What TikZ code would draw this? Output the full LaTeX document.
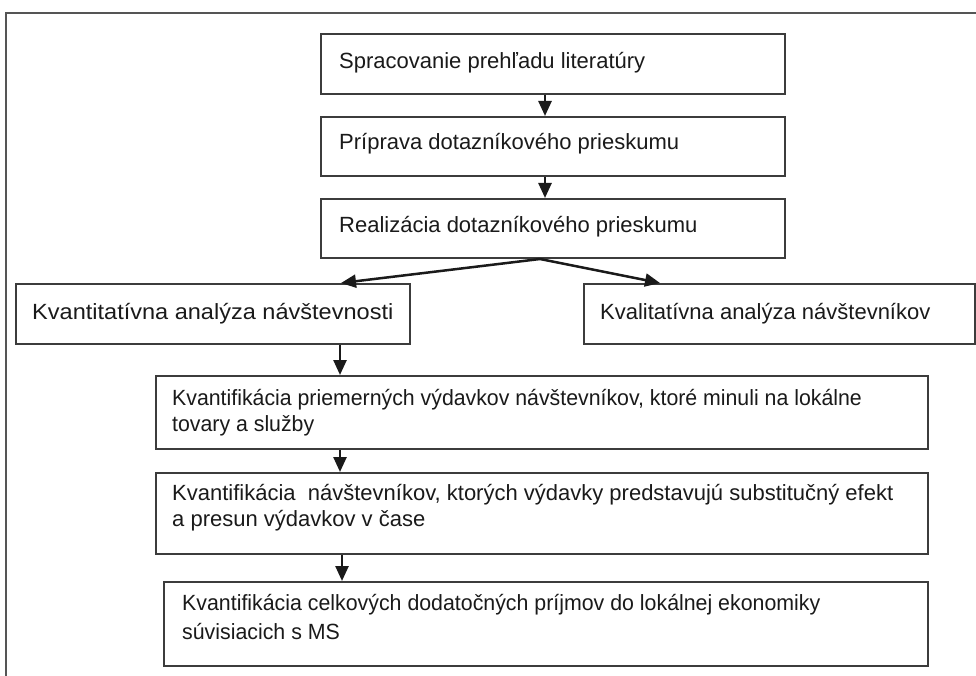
\documentclass[tikz,border=0pt]{standalone}
\usepackage{fontspec}
\setmainfont{Liberation Sans}
\usetikzlibrary{arrows.meta,calc}
\definecolor{boxline}{HTML}{3C3C3C}
\definecolor{frameline}{HTML}{555555}
\definecolor{ink}{HTML}{1A1A1A}
\begin{document}
\begin{tikzpicture}[x=1pt,y=-1pt,
  stepbox/.style={draw=boxline,line width=2pt,rectangle,inner sep=0pt,anchor=north west},
  txt/.style={anchor=base west,inner sep=0pt,text=ink,font=\fontsize{22}{26}\selectfont},
  flow/.style={draw=ink,line width=2.5pt,-{Triangle[length=15pt,width=13pt]}}]
\useasboundingbox (0,0) rectangle (976,676);
\fill[white] (0,0) rectangle (976,676);
% outer frame (open at right and bottom)
\draw[frameline,line width=2pt] (6,676) -- (6,13) -- (976,13);
% boxes
\node[stepbox,minimum width=464pt,minimum height=60pt] (b1) at (320,33) {};
\node[stepbox,minimum width=464pt,minimum height=59pt] (b2) at (320,116) {};
\node[stepbox,minimum width=464pt,minimum height=59pt] (b3) at (320,198) {};
\node[stepbox,minimum width=394pt,minimum height=60pt] (bl) at (15,283) {};
\node[stepbox,minimum width=391pt,minimum height=60pt] (br) at (583,283) {};
\node[stepbox,minimum width=772pt,minimum height=73pt] (b4) at (155,375) {};
\node[stepbox,minimum width=772pt,minimum height=81pt] (b5) at (155,472) {};
\node[stepbox,minimum width=764pt,minimum height=84pt] (b6) at (163,581) {};
% texts
\node[txt] (t1) at ($(b1.north west)+(19,36)$) {Spracovanie prehľadu literatúry};
\node[txt] (t2) at ($(b2.north west)+(19,34)$) {Príprava dotazníkového prieskumu};
\node[txt] (t3) at ($(b3.north west)+(19,35)$) {Realizácia dotazníkového prieskumu};
\node[txt] (tl) at ($(bl.north west)+(17,36)$) {\scalebox{1.07}[1]{Kvantitatívna analýza návštevnosti}};
\node[txt] (tr) at ($(br.north west)+(17,36)$) {Kvalitatívna analýza návštevníkov};
\node[txt] (t4a) at ($(b4.north west)+(17,30)$) {\scalebox{0.968}[1]{Kvantifikácia priemerných výdavkov návštevníkov, ktoré minuli na lokálne}};
\node[txt] (t4b) at ($(b4.north west)+(17,56)$) {\scalebox{0.968}[1]{tovary a služby}};
\node[txt] (t5a) at ($(b5.north west)+(17,28)$) {Kvantifikácia\ \ návštevníkov, ktorých výdavky predstavujú substitučný efekt};
\node[txt] (t5b) at ($(b5.north west)+(17,54)$) {a presun výdavkov v čase};
\node[txt] (t6a) at ($(b6.north west)+(19,29)$) {\scalebox{0.97}[1]{Kvantifikácia celkových dodatočných príjmov do lokálnej ekonomiky}};
\node[txt] (t6b) at ($(b6.north west)+(19,58)$) {\scalebox{0.97}[1]{súvisiacich s MS}};
% connector points
\coordinate (s1) at ($(b1.south west)+(225,0)$);
\coordinate (e1) at ($(b2.north west)+(225,0)$);
\coordinate (s2) at ($(b2.south west)+(225,0)$);
\coordinate (e2) at ($(b3.north west)+(225,0)$);
\coordinate (s3) at ($(b3.south west)+(220,0)$);
\coordinate (el) at ($(bl.north west)+(326,0)$);
\coordinate (er) at ($(br.north west)+(77,0)$);
\coordinate (s4) at ($(bl.south west)+(325,0)$);
\coordinate (e4) at ($(b4.north west)+(185,0)$);
\coordinate (s5) at ($(b4.south west)+(185,0)$);
\coordinate (e5) at ($(b5.north west)+(185,0)$);
\coordinate (s6) at ($(b5.south west)+(187,0)$);
\coordinate (e6) at ($(b6.north west)+(179,0)$);
% connectors
\draw[flow] (s1) -- (e1);
\draw[flow] (s2) -- (e2);
\draw[flow] (s3) -- (el);
\draw[flow] (s3) -- (er);
\draw[flow] (s4) -- (e4);
\draw[flow] (s5) -- (e5);
\draw[flow] (s6) -- (e6);
\end{tikzpicture}
\end{document}
